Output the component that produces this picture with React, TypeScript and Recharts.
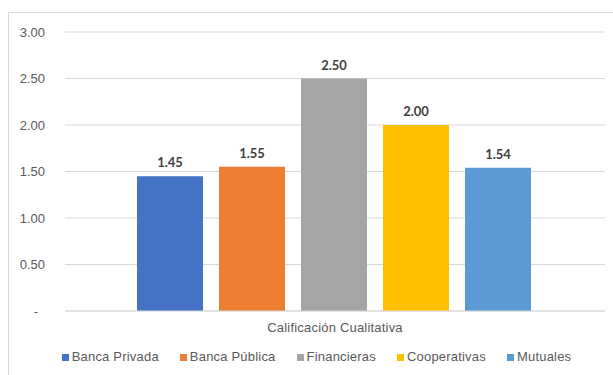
import React from "react";
import { BarChart, Bar, CartesianGrid, XAxis, YAxis, Legend, LabelList } from "recharts";

const categories = ["Calificación Cualitativa"];
const seriesNames = ["Banca Privada", "Banca Pública", "Financieras", "Cooperativas", "Mutuales"];
const seriesValues = [1.45, 1.55, 2.5, 2.0, 1.54];
const seriesColors = ["#4472C4", "#ED7D31", "#A5A5A5", "#FFC000", "#5B9BD5"];
const yTicks = [0, 0.5, 1, 1.5, 2, 2.5, 3];

const data = categories.map((name) => {
  const row: Record<string, string | number> = { name };
  seriesNames.forEach((s, i) => {
    row[s] = seriesValues[i];
  });
  return row;
});

const YTick = ({ y, payload }: any) => {
  const v = payload.value as number;
  return (
    <text
      x={v === 0 ? 38 : 45}
      y={y}
      dy="0.35em"
      textAnchor="end"
      fill="#595959"
      fontSize={13}
      fontFamily="Liberation Sans, Arial, sans-serif"
    >
      {v === 0 ? "-" : v.toFixed(2)}
    </text>
  );
};

const LegendContent = () => (
  <div
    style={{
      display: "flex",
      justifyContent: "center",
      fontFamily: "Liberation Sans, Arial, sans-serif",
      fontSize: 13,
      letterSpacing: 0.2,
      lineHeight: "16px",
      color: "#595959",
      paddingLeft: 20,
    }}
  >
    {seriesNames.map((n, i) => (
      <span key={n} style={{ display: "inline-flex", alignItems: "center", marginRight: i < seriesNames.length - 1 ? 21 : 0 }}>
        <span style={{ width: 7, height: 7, background: seriesColors[i], marginRight: 3, display: "inline-block" }} />
        <span>{n}</span>
      </span>
    ))}
  </div>
);

const App = () => {
  return (
    <div style={{ position: "absolute", left: 0, top: 0, width: 613, height: 375, background: "#fff", overflow: "hidden" }}>
      <div
        style={{
          position: "absolute",
          left: 8,
          top: 12,
          width: 700,
          height: 400,
          borderLeft: "1px solid #d9d9d9",
          borderTop: "1px solid #d9d9d9",
        }}
      />
      <div style={{ position: "absolute", left: 0, top: 0 }}>
        <BarChart
          width={613}
          height={375}
          data={data}
          margin={{ top: 32, right: 8, left: 0, bottom: 0 }}
          barCategoryGap={72}
          barGap={16}
        >
          <CartesianGrid vertical={false} stroke="#d9d9d9" />
          <XAxis
            dataKey="name"
            axisLine={{ stroke: "#d9d9d9" }}
            tickLine={false}
            tickMargin={6}
            height={48}
            tick={{ fontSize: 13, fill: "#595959", fontFamily: "Liberation Sans, Arial, sans-serif", letterSpacing: 0.2 }}
          />
          <YAxis
            width={65}
            domain={[0, 3]}
            ticks={yTicks}
            axisLine={false}
            tickLine={false}
            tick={<YTick />}
          />
          <Legend
            content={<LegendContent />}
            wrapperStyle={{ position: "absolute", top: 349, left: 0, width: 613 }}
          />
          {seriesNames.map((s, i) => (
            <Bar key={s} dataKey={s} fill={seriesColors[i]} isAnimationActive={false}>
              <LabelList
                dataKey={s}
                position="top"
                offset={9}
                formatter={(v: any) => Number(v).toFixed(2)}
                fill="#404040"
                fontSize={13}
                fontWeight="bold"
                fontFamily="Lato, sans-serif"
              />
            </Bar>
          ))}
        </BarChart>
      </div>
    </div>
  );
};

export default App;
